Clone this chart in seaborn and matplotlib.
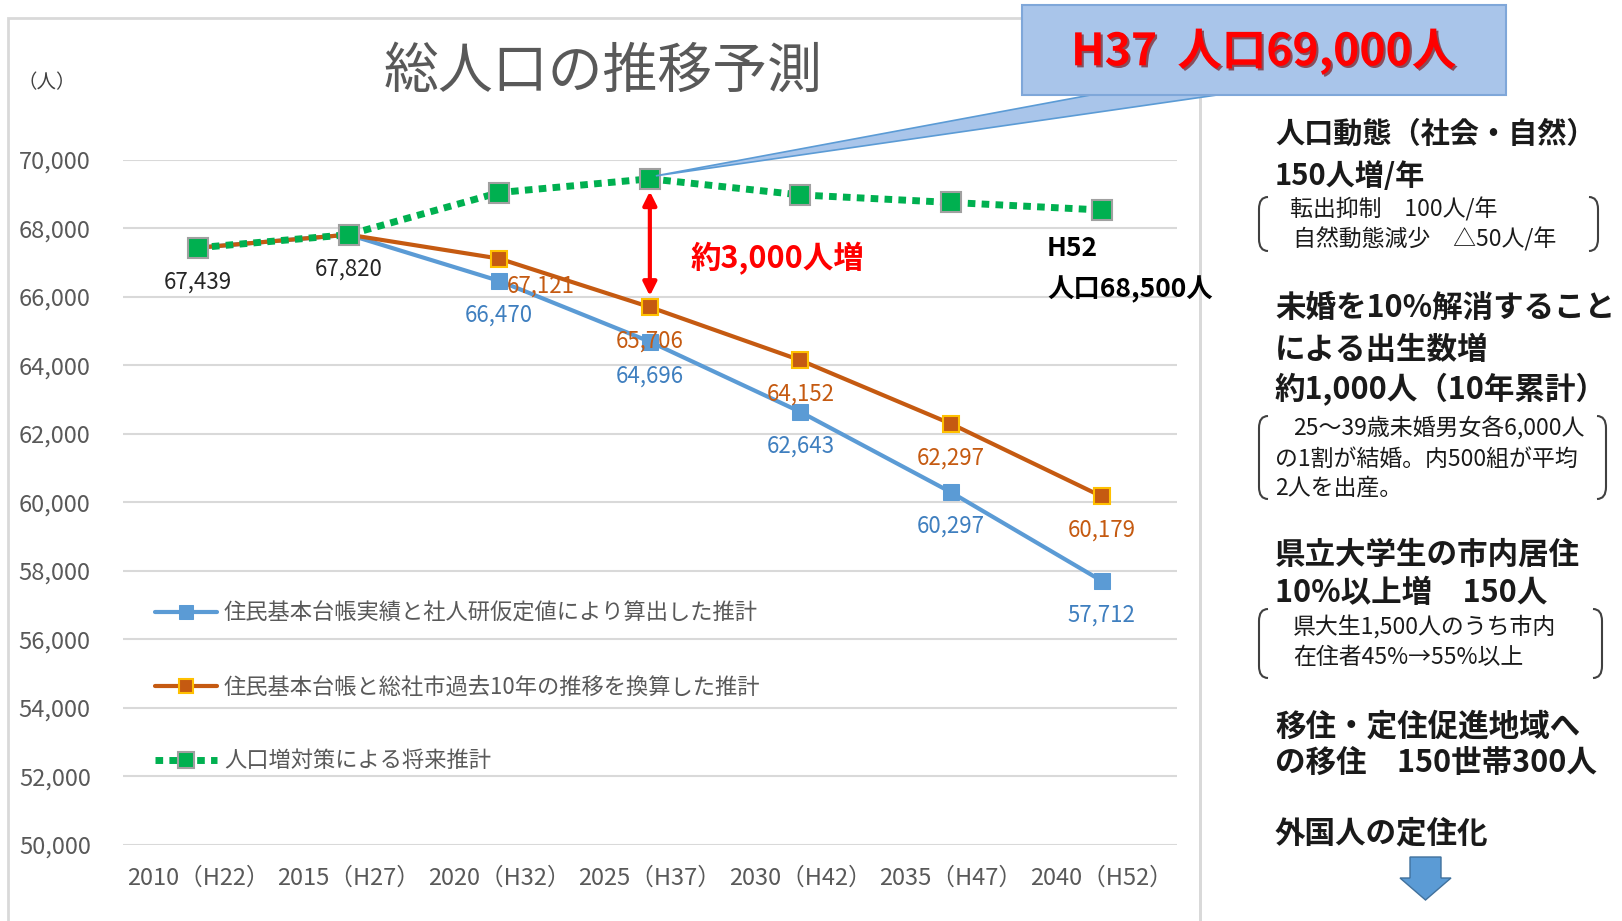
import numpy as np
import seaborn as sns
import matplotlib.pyplot as plt
import matplotlib.patheffects as pe
from matplotlib.patches import Rectangle, Polygon, PathPatch
from matplotlib.path import Path
from matplotlib.lines import Line2D

###### Données ##################################

years = ['2010（H22）', '2015（H27）', '2020（H32）', '2025（H37）',
         '2030（H42）', '2035（H47）', '2040（H52）']
pop_shajinken = [67439, 67820, 66470, 64696, 62643, 60297, 57712]
pop_kako10 = [67439, 67820, 67121, 65706, 64152, 62297, 60179]
pop_taisaku = [67439, 67820, 69050, 69450, 68980, 68760, 68540]
series_labels = ['住民基本台帳実績と社人研仮定値により算出した推計',
                 '住民基本台帳と総社市過去10年の推移を換算した推計',
                 '人口増対策による将来推計']
y_ticks = list(range(50000, 70001, 2000))

BLUE = '#5B9BD5'
ORANGE = '#C55A11'
GREEN = '#00B050'
GREY = '#595959'

W, H = 1622, 921

sns.set_style('white')
plt.rcParams['font.family'] = ['Noto Sans CJK JP', 'DejaVu Sans']

fig = plt.figure(figsize=(W / 100, H / 100), dpi=100)


def fx(px):
    return px / W


def fy(py):
    return 1 - py / H


def ftext(px, py, s, **kw):
    kw.setdefault('va', 'center')
    kw.setdefault('ha', 'left')
    fig.text(fx(px), fy(py), s, **kw)


# cadre du graphique
fig.add_artist(Rectangle((fx(8), fy(930)), fx(1200) - fx(8), fy(18) - fy(930),
                         transform=fig.transFigure, fill=False, ec='#D9D9D9', lw=2, zorder=0.5))

ax = fig.add_axes([fx(122.7), fy(845), fx(1177) - fx(122.7), fy(160) - fy(845)])
x = np.arange(len(years))

sns.lineplot(x=x, y=pop_shajinken, ax=ax, color=BLUE, lw=3, marker='s', markersize=12,
             markerfacecolor=BLUE, markeredgecolor=BLUE, label=series_labels[0], zorder=3)
sns.lineplot(x=x, y=pop_kako10, ax=ax, color=ORANGE, lw=3, marker='s', markersize=12,
             markerfacecolor=ORANGE, markeredgecolor='#FFC000', markeredgewidth=1.5,
             label=series_labels[1], zorder=3)
sns.lineplot(x=x, y=pop_taisaku, ax=ax, color=GREEN, lw=5, linestyle=(0, (1.1, 0.9)),
             marker='s', markersize=15, markerfacecolor=GREEN, markeredgecolor='#A0A0A0',
             markeredgewidth=1.5, label=series_labels[2], zorder=4)

ax.set_xlim(-0.5, len(years) - 0.5)
ax.set_ylim(50000, 70000)
ax.set_xticks(x)
ax.set_xticklabels(years)
ax.set_yticks(y_ticks)
ax.set_yticklabels([f'{v:,}' for v in y_ticks])
ax.tick_params(length=0, colors=GREY, labelsize=17)
ax.tick_params(axis='y', pad=23)
ax.tick_params(axis='x', pad=16)
ax.yaxis.grid(True, color='#D9D9D9', lw=1.5)
ax.xaxis.grid(False)
ax.set_xlabel('')
ax.set_ylabel('')
sns.despine(ax=ax, left=True, bottom=True)

ax.legend(loc='upper left', bbox_to_anchor=(fx(155), fy(602)), bbox_transform=fig.transFigure,
          frameon=False, fontsize=16, handlelength=2.8, handletextpad=0.3, labelspacing=2.28,
          borderpad=0, borderaxespad=0, labelcolor=GREY, markerscale=0.8)

# étiquettes de données
for i in range(len(years)):
    if i < 2:
        ax.annotate(f'{pop_shajinken[i]:,}', (i, pop_shajinken[i]), xytext=(0, -34),
                    textcoords='offset pixels', ha='center', va='center', fontsize=16, color='#262626')
        continue
    ax.annotate(f'{pop_shajinken[i]:,}', (i, pop_shajinken[i]), xytext=(0, -34),
                textcoords='offset pixels', ha='center', va='center', fontsize=16, color='#3F7FBF')
    off = (42, -28) if i == 2 else (0, -34)
    ax.annotate(f'{pop_kako10[i]:,}', (i, pop_kako10[i]), xytext=off,
                textcoords='offset pixels', ha='center', va='center', fontsize=16, color=ORANGE)

# flèche rouge
ax.annotate('', xy=(3, pop_kako10[3]), xytext=(3, pop_taisaku[3]),
            arrowprops=dict(arrowstyle='<|-|>', color='red', lw=3, shrinkA=9, shrinkB=8,
                            mutation_scale=20), zorder=5)

# titres et textes du graphique
ftext(603, 72, '総人口の推移予測', ha='center', fontsize=39.5, color=GREY)
ftext(47, 83, '（人）', ha='center', fontsize=14, color='#404040')
ftext(691, 259, '約3,000人増', fontsize=22, color='#FF0000', fontweight='bold')
ftext(1047, 248, 'H52', fontsize=19, fontweight='bold', color='black')
ftext(1047, 290, '人口68,500人', fontsize=19, fontweight='bold', color='black')

# bulle H37
tip = fig.transFigure.inverted().transform(ax.transData.transform((3, pop_taisaku[3])))
fig.add_artist(Polygon([(fx(1096), fy(94)), (fx(1224), fy(94)), (tip[0] + 6 / W, tip[1] + 3 / H)],
                       closed=True, transform=fig.transFigure, fc='#A9C5EA', ec=BLUE, lw=1.2, zorder=2))
fig.add_artist(Rectangle((fx(1022), fy(95)), fx(1506) - fx(1022), fy(5) - fy(95),
                         transform=fig.transFigure, fc='#A9C5EA', ec='#7FA7D9', lw=1.5, zorder=3))
fig.text(fx(1264), fy(52), 'H37  人口69,000人', ha='center', va='center', fontsize=32,
         fontweight='bold', color='#FF0000', zorder=4,
         path_effects=[pe.withSimplePatchShadow(offset=(1.5, -1.5), shadow_rgbFace='#700000', alpha=0.6)])

# séparateur
fig.add_artist(Line2D([fx(1200), fx(1200)], [fy(95), fy(925)], transform=fig.transFigure,
                      color='#D9D9D9', lw=2, zorder=1))

# panneau de droite


def bracket(px, y0, y1, d):
    verts = [(px + d, y0), (px, y0), (px, y0 + 12), (px, y1 - 12), (px, y1), (px + d, y1)]
    codes = [Path.MOVETO, Path.CURVE3, Path.CURVE3, Path.LINETO, Path.CURVE3, Path.CURVE3]
    verts = [(fx(a), fy(b)) for a, b in verts]
    fig.add_artist(PathPatch(Path(verts, codes), transform=fig.transFigure, fill=False,
                             ec='#404040', lw=1.5))


head = dict(fontsize=21, fontweight='bold', color='#1A1A1A')
head2 = dict(fontsize=22, fontweight='bold', color='#1A1A1A')
small = dict(fontsize=16.5, color='#1A1A1A')

ftext(1275, 134, '人口動態（社会・自然）', **head)
ftext(1275, 176, '150人増/年', **head)
ftext(1290, 209, '転出抑制　100人/年', **small)
ftext(1293, 239, '自然動態減少　△50人/年', **small)
bracket(1259, 197, 251, 9)
bracket(1598, 197, 251, -9)

ftext(1275, 308, '未婚を10%解消すること', **head2)
ftext(1275, 350, 'による出生数増', **head2)
ftext(1275, 390, '約1,000人（10年累計）', **head2)
ftext(1293, 428, '25～39歳未婚男女各6,000人', **small)
ftext(1275, 459, 'の1割が結婚。内500組が平均', **small)
ftext(1275, 488, '2人を出産。', **small)
bracket(1259, 416, 499, 9)
bracket(1606, 416, 499, -9)

ftext(1275, 555, '県立大学生の市内居住', **head2)
ftext(1275, 593, '10%以上増　150人', **head2)
ftext(1293, 627, '県大生1,500人のうち市内', **small)
ftext(1293, 657, '在住者45%→55%以上', **small)
bracket(1259, 609, 678, 9)
bracket(1602, 609, 678, -9)

ftext(1275, 726, '移住・定住促進地域へ', **head2)
ftext(1275, 763, 'の移住　150世帯300人', **head2)
ftext(1275, 833, '外国人の定住化', **head2)

arrow_pts = [(1410, 857), (1441, 857), (1441, 878), (1451, 878), (1425.5, 900), (1400, 878), (1410, 878)]
fig.add_artist(Polygon([(fx(a), fy(b)) for a, b in arrow_pts], closed=True, transform=fig.transFigure,
                       fc=BLUE, ec='#41719C', lw=1))

fig.savefig('out.png', dpi=100)
